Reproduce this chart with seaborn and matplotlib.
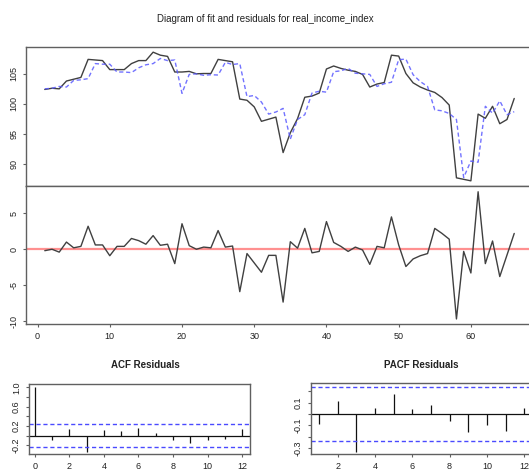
import numpy as np
import pandas as pd
import matplotlib.pyplot as plt
import seaborn as sns

# values
time_idx = list(range(1, 67))
actual = [102.4, 102.6, 102.5, 103.8, 104.1, 104.4, 107.4, 107.3, 107.2, 105.7,
          105.7, 105.7, 106.7, 107.2, 107.2, 108.6, 108.1, 107.9, 105.3, 105.3,
          105.4, 105.0, 105.05, 105.05, 107.4, 107.2, 107.0, 100.8, 100.6, 99.5,
          97.1, 97.45, 97.8, 91.9, 95.2, 97.55, 101.1, 101.3, 101.8, 105.8,
          106.3, 105.9, 105.6, 105.4, 104.9, 102.8, 103.3, 103.55, 108.1, 107.95,
          105.05, 103.5, 102.8, 102.3, 101.9, 101.05, 99.8, 87.7, 87.45, 87.2,
          98.3, 97.6, 99.6, 96.7, 97.4, 100.9]
fitted = [102.5, 102.6, 102.9, 102.8, 103.9, 104.0, 104.2, 106.7, 106.6, 106.6,
          105.3, 105.3, 105.2, 106.0, 106.5, 106.7, 107.55, 107.2, 107.3, 101.75,
          104.9, 105.0, 104.75, 104.85, 104.8, 106.9, 106.55, 106.7, 101.2, 101.4,
          100.3, 98.3, 98.65, 99.25, 94.15, 97.4, 98.2, 101.8, 102.1, 101.95,
          105.35, 105.5, 105.9, 105.1, 105.0, 104.9, 102.9, 103.35, 103.6, 107.35,
          107.45, 104.85, 103.7, 102.9, 99.0, 98.85, 98.4, 97.4, 87.75, 90.5,
          90.3, 99.6, 98.45, 100.5, 98.2, 98.7]
residuals = [-0.2, 0.0, -0.4, 1.0, 0.2, 0.4, 3.2, 0.6, 0.6, -0.9,
             0.4, 0.4, 1.5, 1.2, 0.7, 1.9, 0.55, 0.7, -2.0, 3.55,
             0.5, 0.0, 0.3, 0.2, 2.6, 0.3, 0.45, -5.9, -0.6, -1.9,
             -3.2, -0.85, -0.85, -7.35, 1.05, 0.15, 2.9, -0.5, -0.3, 3.85,
             0.95, 0.4, -0.3, 0.3, -0.1, -2.1, 0.4, 0.2, 4.5, 0.6,
             -2.4, -1.35, -0.9, -0.6, 2.9, 2.2, 1.4, -9.7, -0.3, -3.3,
             8.0, -2.0, 1.15, -3.8, -0.8, 2.2]
acf_lags = list(range(0, 13))
acf_vals = [1.0, -0.08, 0.13, -0.33, 0.12, 0.10, 0.165, 0.06, -0.10, -0.16, -0.09, -0.07, 0.14]
pacf_lags = list(range(1, 13))
pacf_vals = [-0.085, 0.11, -0.335, 0.056, 0.18, 0.04, 0.08, -0.06, -0.16, -0.095, -0.15, 0.056]
conf_bound = 0.241

sns.set_theme(style="white")
plt.rcParams['font.family'] = ['Liberation Sans', 'DejaVu Sans']
plt.rcParams['axes.unicode_minus'] = False

W, H = 529, 470
fig = plt.figure(figsize=(W / 100, H / 100), dpi=100)

def box(l, t, r, b):
    return [l / W, 1 - b / H, (r - l) / W, (b - t) / H]

ax1 = fig.add_axes(box(26, 47, 533, 186))
ax2 = fig.add_axes(box(26, 186, 533, 324))
ax3 = fig.add_axes(box(28.7, 384, 250, 454))
ax4 = fig.add_axes(box(310.7, 383.3, 532.5, 454))

frame_col = '#606060'
for ax in (ax1, ax2, ax3, ax4):
    for s in ax.spines.values():
        s.set_color(frame_col)
        s.set_linewidth(1.0)
    ax.tick_params(axis='both', which='both', length=2.5, width=0.8, color=frame_col,
                   labelsize=6.5, pad=3, labelcolor='#222222', direction='out')

def rot_y(ax):
    for lab in ax.get_yticklabels():
        lab.set_rotation(90)
        lab.set_va('center')

# fit panel
sns.lineplot(x=time_idx, y=actual, ax=ax1, color='#404040', lw=1.0)
sns.lineplot(x=time_idx, y=fitted, ax=ax1, color='#5a5aff', lw=1.0,
             linestyle=(0, (3, 2)), alpha=0.85)
ax1.set_xlim(-1.6, 68.6)
ax1.set_ylim(86.34, 109.46)
ax1.set_yticks([90, 95, 100, 105])
ax1.tick_params(axis='x', bottom=False, labelbottom=False)
ax1.tick_params(axis='y', left=True)
rot_y(ax1)

# residual panel
ax2.axhline(0, color='#ff9090', lw=1.6)
sns.lineplot(x=time_idx, y=residuals, ax=ax2, color='#404040', lw=1.0)
ax2.set_xlim(-1.6, 68.6)
ax2.set_ylim(-10.4, 8.8)
ax2.set_yticks([-10, -5, 0, 5])
ax2.set_xticks([0, 10, 20, 30, 40, 50, 60])
ax2.tick_params(axis='x', bottom=True)
ax2.tick_params(axis='y', left=True)
rot_y(ax2)

# ACF panel
ax3.vlines(acf_lags, 0, acf_vals, color='#111111', lw=0.9)
ax3.axhline(0, color='#111111', lw=0.9)
for c in (conf_bound, -conf_bound):
    ax3.axhline(c, color='#4a4aff', lw=1.0, linestyle=(0, (3, 2)))
ax3.set_xlim(-0.35, 12.45)
ax3.set_ylim(-0.38, 1.07)
ax3.set_yticks([-0.2, 0.0, 0.2, 0.4, 0.6, 0.8, 1.0])
ax3.set_yticklabels(['-0.2', '', '0.2', '', '0.6', '', '1.0'])
ax3.set_xticks([0, 2, 4, 6, 8, 10, 12])
ax3.tick_params(axis='x', bottom=True)
ax3.tick_params(axis='y', left=True)
rot_y(ax3)

# PACF panel
ax4.vlines(pacf_lags, 0, pacf_vals, color='#111111', lw=0.9)
ax4.axhline(0, color='#111111', lw=0.9)
for c in (conf_bound, -conf_bound):
    ax4.axhline(c, color='#4a4aff', lw=1.0, linestyle=(0, (3, 2)))
ax4.set_xlim(0.56, 12.44)
ax4.set_ylim(-0.353, 0.27)
ax4.set_yticks([-0.3, -0.2, -0.1, 0.0, 0.1, 0.2])
ax4.set_yticklabels(['-0.3', '', '-0.1', '', '0.1', ''])
ax4.set_xticks([2, 4, 6, 8, 10, 12])
ax4.tick_params(axis='x', bottom=True)
ax4.tick_params(axis='y', left=True)
rot_y(ax4)

fig.text(265 / W, 1 - 19 / H, 'Diagram of fit and residuals for real_income_index',
         ha='center', va='center', fontsize=7, color='#222222')
fig.text(145 / W, 1 - 365 / H, 'ACF Residuals', ha='center', va='center',
         fontsize=7, fontweight='bold', color='#222222')
fig.text(421.6 / W, 1 - 365 / H, 'PACF Residuals', ha='center', va='center',
         fontsize=7, fontweight='bold', color='#222222')

fig.savefig('out.png', dpi=100)
